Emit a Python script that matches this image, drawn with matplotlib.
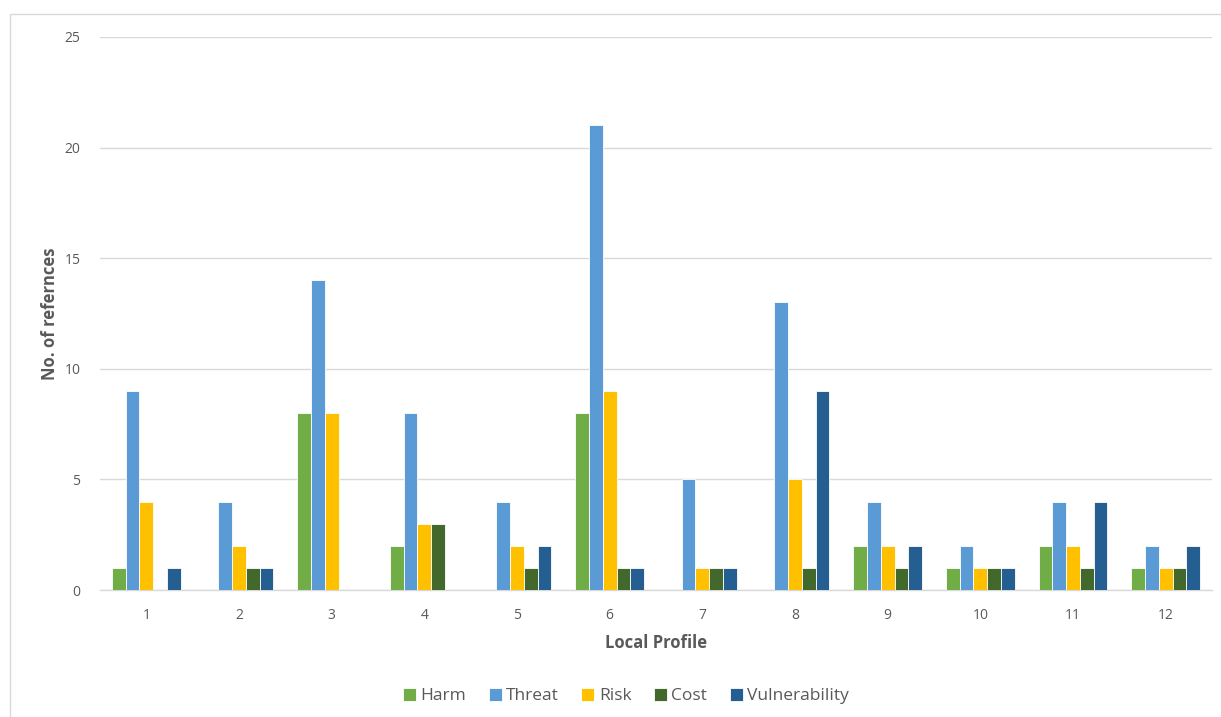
import numpy as np
import matplotlib
matplotlib.use("Agg")
import matplotlib.pyplot as plt
from matplotlib.patches import Rectangle

# reference counts per local profile
profiles = ["1", "2", "3", "4", "5", "6", "7", "8", "9", "10", "11", "12"]
harm = [1, 0, 8, 2, 0, 8, 0, 0, 2, 1, 2, 1]
threat = [9, 4, 14, 8, 4, 21, 5, 13, 4, 2, 4, 2]
risk = [4, 2, 8, 3, 2, 9, 1, 5, 2, 1, 2, 1]
cost = [0, 1, 0, 3, 1, 1, 1, 1, 1, 1, 1, 1]
vulnerability = [1, 1, 0, 0, 2, 1, 1, 9, 2, 1, 4, 2]

series = [
    ("Harm", harm, "#70AD47"),
    ("Threat", threat, "#5B9BD5"),
    ("Risk", risk, "#FFC000"),
    ("Cost", cost, "#43682B"),
    ("Vulnerability", vulnerability, "#255E91"),
]

plt.rcParams['font.family'] = ['Open Sans', 'DejaVu Sans']
grey = "#595959"

fig = plt.figure(figsize=(12.21, 7.17), dpi=100)
fig.patches.append(Rectangle((10 / 1221, -0.01), 1.0, 1 - 14 / 717 + 0.01,
                             transform=fig.transFigure, fill=False,
                             edgecolor="#D9D9D9", linewidth=1.0))
ax = fig.add_axes([100 / 1221, 1 - 590 / 717, 1112 / 1221, 553 / 717])

x = np.arange(1, len(profiles) + 1)
w = 0.148
for i, (name, vals, col) in enumerate(series):
    ax.bar(x + (i - 2) * w, vals, width=w, color=col, label=name,
           edgecolor="white", linewidth=0.6, zorder=3)

ax.set_xlim(0.5, 12.5)
ax.set_ylim(0, 25)
ax.set_yticks(range(0, 26, 5))
ax.set_xticks(x)
ax.set_xticklabels(profiles)
ax.grid(axis="y", color="#D9D9D9", linewidth=1.0, zorder=0)
for s in ["top", "right", "left"]:
    ax.spines[s].set_visible(False)
ax.spines["bottom"].set_color("#D9D9D9")
ax.spines["bottom"].set_linewidth(1.0)
ax.tick_params(axis="both", length=0, colors=grey, labelsize=10)
ax.tick_params(axis="y", pad=14)
ax.tick_params(axis="x", pad=13)

ax.set_ylabel("No. of refernces", color=grey, fontsize=12, fontweight="bold", labelpad=4)
ax.set_xlabel("Local Profile", color=grey, fontsize=12, fontweight="bold", labelpad=8)

leg = fig.legend(loc="center", bbox_to_anchor=(626 / 1221, 1 - 696 / 717), ncol=5,
                 frameon=False, fontsize=12.5, handlelength=0.75, handleheight=0.75,
                 handletextpad=0.25, columnspacing=1.3)
for t in leg.get_texts():
    t.set_color(grey)

fig.savefig("out.png", dpi=100)
